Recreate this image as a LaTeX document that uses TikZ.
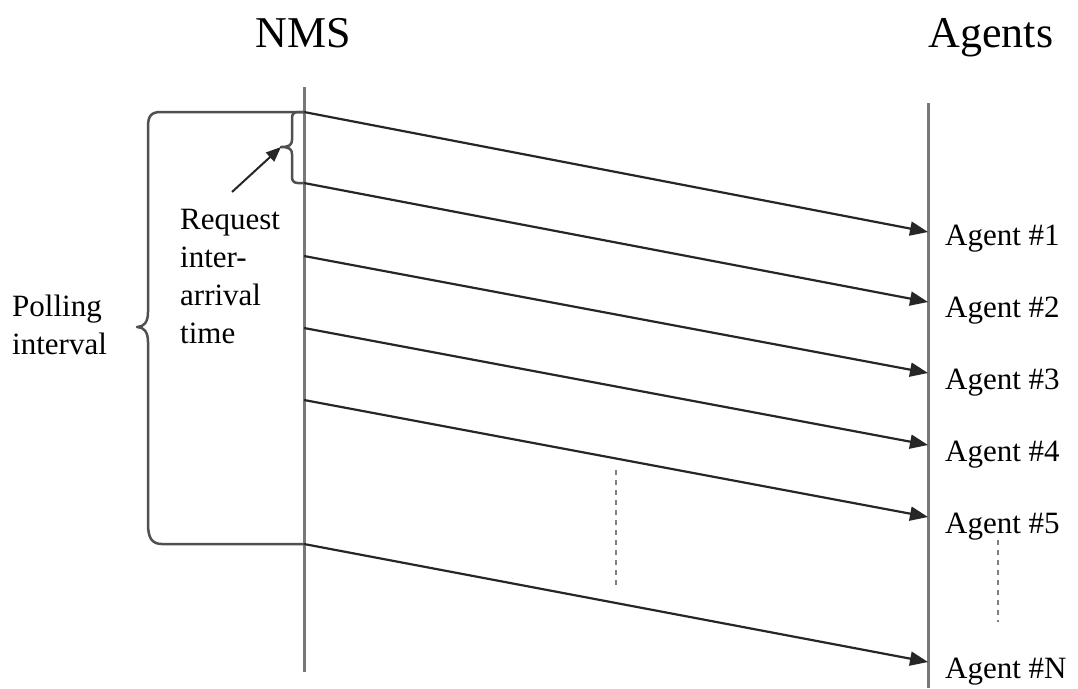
\documentclass[tikz,border=0pt]{standalone}
\usepackage{fontspec}
\setmainfont{Liberation Serif}
\usetikzlibrary{arrows.meta}
\definecolor{lifeline}{RGB}{120,120,120}
\definecolor{bracegray}{RGB}{80,80,80}
\begin{document}
\begin{tikzpicture}[x=1pt,y=-1pt,
  lifelinestyle/.style={draw=lifeline,line width=3pt},
  bracestyle/.style={draw=bracegray,line width=2.5pt,line join=round},
  msg/.style={draw=black!85,line width=2.2pt,-{Triangle[length=18pt,width=14pt]}},
  dotsline/.style={draw=gray,line width=2.2pt,dash pattern=on 5pt off 5pt},
  title/.style={font=\fontsize{44}{52}\selectfont,inner sep=0pt,anchor=base},
  agentlabel/.style={font=\fontsize{31}{37}\selectfont,inner sep=0pt,anchor=base west},
  note/.style={font=\fontsize{31}{38}\selectfont,inner sep=0pt,anchor=north west,align=left}]
\useasboundingbox (0,0) rectangle (1078,688);

% titles
\node[title] (nms) at (303,47) {NMS};
\node[title] (agents) at (991,47) {Agents};

% lifelines
\coordinate (nmstop) at (304,87);
\coordinate (nmsbot) at (304,672);
\coordinate (agtop) at (928,103);
\coordinate (agbot) at (928,688);
\draw[lifelinestyle] (nmstop) -- (nmsbot);
\draw[lifelinestyle] (agtop) -- (agbot);

% request start points on the NMS line
\coordinate (s1) at (304,112);
\coordinate (s2) at (304,183);
\coordinate (s3) at (304,256);
\coordinate (s4) at (304,328);
\coordinate (s5) at (304,400);
\coordinate (sN) at (304,544);

% arrival points on the agents line
\coordinate (e1) at (928,232);
\coordinate (e2) at (928,302);
\coordinate (e3) at (928,373);
\coordinate (e4) at (928,445);
\coordinate (e5) at (928,517);
\coordinate (eN) at (928,662);

% agent labels
\node[agentlabel] (a1) at (945,245) {Agent \#1};
\node[agentlabel] (a2) at (945,317) {Agent \#2};
\node[agentlabel] (a3) at (945,389) {Agent \#3};
\node[agentlabel] (a4) at (945,461) {Agent \#4};
\node[agentlabel] (a5) at (945,533) {Agent \#5};
\node[agentlabel] (aN) at (945,678) {Agent \#N};

% polling requests
\draw[msg] (s1) -- (e1);
\draw[msg] (s2) -- (e2);
\draw[msg] (s3) -- (e3);
\draw[msg] (s4) -- (e4);
\draw[msg] (s5) -- (e5);
\draw[msg] (sN) -- (eN);

% omitted requests / agents
\coordinate (d1a) at (616,470);
\coordinate (d1b) at (616,590);
\coordinate (d2a) at (998,540);
\coordinate (d2b) at (998,622);
\draw[dotsline] (d1a) -- (d1b);
\draw[dotsline] (d2a) -- (d2b);

% polling interval brace
\coordinate (ptip) at (137,327);
\draw[bracestyle] (s1) -- (161,112) .. controls (151,112) and (148,116) .. (148,127)
  -- (148,312) .. controls (148,322) and (144,327) .. (ptip)
  .. controls (144,327) and (148,332) .. (148,342)
  -- (148,524) .. controls (148,538) and (152,544) .. (162,544) -- (sN);

% inter-arrival brace
\coordinate (rtip) at (281,147);
\draw[bracestyle] (s1) -- (298,112) .. controls (294,112) and (292,114) .. (292,118)
  -- (292,140) .. controls (292,145) and (289,147) .. (rtip)
  .. controls (289,147) and (292,149) .. (292,154)
  -- (292,177) .. controls (292,181) and (294,183) .. (298,183) -- (s2);

% labels
\node[note] (req) at (180,209) {Request\\inter-\\arrival\\time};
\node[note] (poll) at (12,295) {Polling\\interval};
\coordinate (reqarrow) at (232,192);
\draw[draw=black!85,line width=2pt,-{Triangle[length=15pt,width=12pt]}] (reqarrow) -- (rtip);
\end{tikzpicture}
\end{document}
